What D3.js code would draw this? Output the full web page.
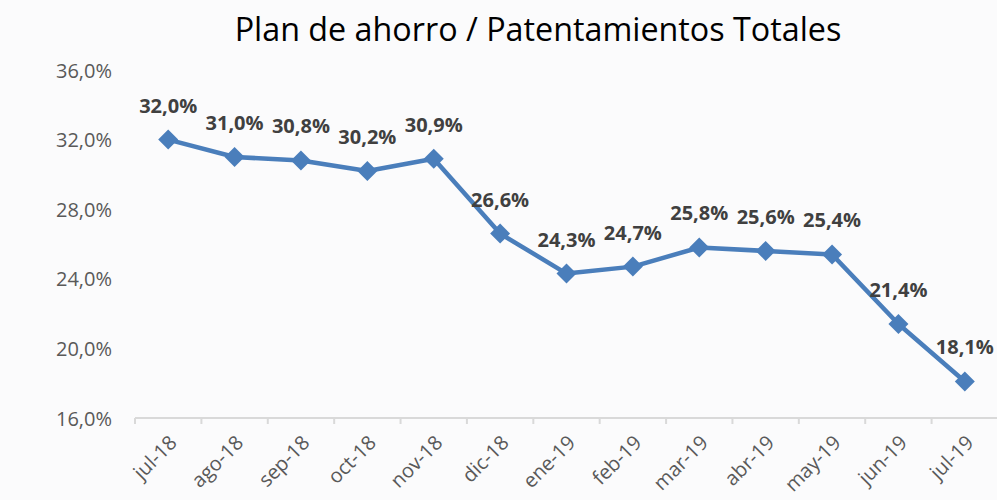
<!DOCTYPE html>
<html>
<head>
<meta charset="utf-8">
<script src="https://cdn.jsdelivr.net/npm/d3@7"></script>
<style>
html,body{margin:0;padding:0;background:#fff;}
svg{display:block;}
</style>
</head>
<body>
<svg id="chart" width="997" height="500"></svg>
<script>
const categories = ["jul-18","ago-18","sep-18","oct-18","nov-18","dic-18","ene-19","feb-19","mar-19","abr-19","may-19","jun-19","jul-19"];
const values = [32.0, 31.0, 30.8, 30.2, 30.9, 26.6, 24.3, 24.7, 25.8, 25.6, 25.4, 21.4, 18.1];
const yTicks = [16, 20, 24, 28, 32, 36];
const title = "Plan de ahorro / Patentamientos Totales";

const svg = d3.select("#chart");
const W = 997, H = 500;
const fmt = v => d3.format(".1f")(v).replace(".", ",") + "%";

svg.append("rect").attr("width", W).attr("height", H).attr("fill", "#fbfbfc");

const x = d3.scaleBand().domain(categories).range([135, 998]).padding(0);
const y = d3.scaleLinear().domain([16, 36]).range([418, 70]);

// title
const t = svg.append("text").attr("x", 538).attr("y", 41).attr("text-anchor", "middle")
  .attr("font-family", "'Open Sans', sans-serif").attr("font-size", 28)
  .attr("fill", "#000").text(title);
const tw = t.node().getComputedTextLength();
t.attr("font-size", 28 * 607 / tw);

// y axis (labels only)
const yAxis = d3.axisLeft(y).tickValues(yTicks).tickSize(0).tickPadding(0).tickFormat(fmt);
const gy = svg.append("g").attr("transform", "translate(112,0)").call(yAxis);
gy.select(".domain").remove();
gy.selectAll("text").attr("font-family", "'Open Sans', sans-serif").attr("font-size", 20)
  .attr("fill", "#595959").attr("dy", "0.35em");

// x axis
const xAxis = d3.axisBottom(x).tickSizeOuter(0).tickSizeInner(6).tickPadding(0);
const gx = svg.append("g").attr("transform", "translate(0,418)").call(xAxis);
gx.select(".domain").attr("stroke", "#d9d9d9").attr("stroke-width", 2)
  .attr("d", `M135,0H998`);
gx.selectAll(".tick line").attr("stroke", "#d9d9d9").attr("stroke-width", 2)
  .attr("transform", `translate(${-x.bandwidth()/2},0)`);
gx.selectAll(".tick text")
  .attr("font-family", "'Open Sans', sans-serif").attr("font-size", 20).attr("fill", "#595959")
  .attr("text-anchor", "end").attr("dy", 0).attr("y", 0)
  .attr("transform", "translate(10,26) rotate(-45)");

// line
const line = d3.line().x((d, i) => x(categories[i]) + x.bandwidth()/2).y(d => y(d));
svg.append("path").datum(values).attr("d", line).attr("fill", "none")
  .attr("stroke", "#4a7ebb").attr("stroke-width", 4.5).attr("stroke-linejoin", "round");

// markers
svg.append("g").selectAll("path").data(values).join("path")
  .attr("d", d3.symbol().type(d3.symbolSquare).size(200))
  .attr("transform", (d, i) => `translate(${x(categories[i]) + x.bandwidth()/2},${y(d)}) rotate(45)`)
  .attr("fill", "#4a7ebb");

// labels
svg.append("g").selectAll("text").data(values).join("text")
  .attr("x", (d, i) => x(categories[i]) + x.bandwidth()/2)
  .attr("y", d => y(d) - 27)
  .attr("text-anchor", "middle")
  .attr("font-family", "'Open Sans', sans-serif").attr("font-weight", "bold").attr("font-size", 20)
  .attr("fill", "#404040").text(fmt);
</script>
</body>
</html>
